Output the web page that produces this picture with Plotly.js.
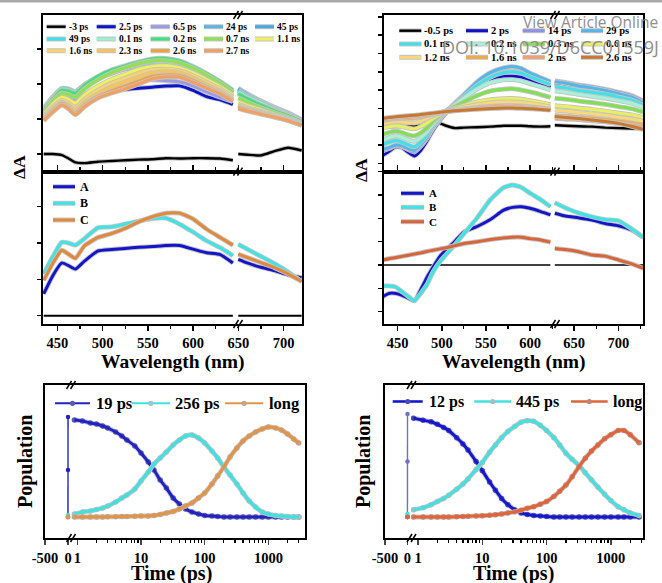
<!DOCTYPE html>
<html><head><meta charset="utf-8">
<script src="https://cdn.plot.ly/plotly-3.0.1.min.js"></script>
<style>html,body{margin:0;padding:0;background:#fff}</style>
</head><body>
<div id="chart" style="width:662px;height:583px"></div>
<script>
// ================= DATA =================
// --- left column: transient spectra (top) ---
const wlL = [435,445,455,462,470,480,495,510,525,540,555,570,585,600,615,630,644,null,650,660,675,690,705,720];
const tlNames  = ['-3 ps','2.5 ps','6.5 ps','24 ps','45 ps','49 ps','0.1 ns','0.2 ns','0.7 ns','1.1 ns','1.6 ns','2.3 ns','2.6 ns','2.7 ns'];
const tlColors = ['#000000','#0a14c8','#9a9ae2','#5ab4e6','#48a8e0','#3edfe8','#9cf0cc','#3ee07c','#90e052','#f0f05a','#f8d46c','#f6c45a','#f0a040','#f0a060'];
const tl_m3ps  = [0.0,0.0,-0.03,-0.12,-0.24,-0.26,-0.22,-0.2,-0.18,-0.16,-0.15,-0.12,-0.13,-0.12,-0.12,-0.13,-0.18,null,0.0,-0.02,-0.04,0.08,0.18,0.1];
const tl_2p5ps = [1.2,1.42,1.6,1.58,1.5,1.62,1.76,1.8,1.84,1.88,1.91,1.94,1.95,1.82,1.64,1.55,1.42,null,1.75,1.6,1.42,1.26,1.1,0.92];
const tl_6p5ps = [1.22,1.45,1.65,1.62,1.55,1.7,1.88,2.0,2.05,2.1,2.12,2.1,2.06,1.95,1.78,1.62,1.5,null,1.8,1.64,1.46,1.3,1.14,0.95];
const tl_24ps  = [1.3,1.62,1.86,1.84,1.76,1.95,2.15,2.3,2.42,2.5,2.56,2.55,2.48,2.33,2.14,1.95,1.74,null,1.88,1.72,1.52,1.34,1.18,0.98];
const tl_45ps  = [1.3,1.63,1.87,1.85,1.78,1.98,2.18,2.33,2.45,2.54,2.6,2.59,2.52,2.37,2.18,1.98,1.76,null,1.86,1.7,1.5,1.32,1.16,0.97];
const tl_49ps  = [1.28,1.62,1.88,1.86,1.78,1.98,2.2,2.36,2.48,2.57,2.63,2.62,2.55,2.4,2.2,2.0,1.78,null,1.82,1.66,1.48,1.3,1.14,0.95];
const tl_0p1ns = [1.27,1.6,1.84,1.82,1.75,1.96,2.2,2.38,2.5,2.6,2.67,2.66,2.6,2.45,2.25,2.03,1.8,null,1.76,1.62,1.44,1.27,1.12,0.93];
const tl_0p2ns = [1.26,1.58,1.82,1.8,1.73,1.96,2.22,2.4,2.52,2.63,2.72,2.73,2.66,2.5,2.3,2.07,1.82,null,1.72,1.58,1.4,1.24,1.1,0.92];
const tl_0p7ns = [1.2,1.52,1.74,1.7,1.62,1.86,2.12,2.32,2.46,2.58,2.66,2.67,2.6,2.45,2.25,2.02,1.76,null,1.6,1.48,1.32,1.18,1.05,0.88];
const tl_1p1ns = [1.12,1.42,1.62,1.56,1.45,1.68,1.94,2.14,2.28,2.42,2.5,2.52,2.46,2.32,2.12,1.92,1.68,null,1.48,1.38,1.26,1.13,1.01,0.86];
const tl_1p6ns = [1.06,1.34,1.54,1.46,1.32,1.56,1.82,2.02,2.16,2.3,2.4,2.42,2.38,2.24,2.05,1.86,1.62,null,1.42,1.33,1.22,1.1,0.99,0.85];
const tl_2p3ns = [1.02,1.28,1.48,1.4,1.24,1.48,1.72,1.92,2.06,2.2,2.32,2.35,2.32,2.17,1.98,1.8,1.57,null,1.38,1.29,1.19,1.08,0.97,0.84];
const tl_2p6ns = [0.98,1.24,1.44,1.34,1.17,1.4,1.65,1.8,1.94,2.08,2.22,2.26,2.24,2.1,1.92,1.75,1.53,null,1.33,1.26,1.16,1.06,0.96,0.83];
const tl_2p7ns = [0.95,1.2,1.4,1.3,1.12,1.35,1.6,1.74,1.86,2.0,2.15,2.2,2.2,2.05,1.88,1.72,1.5,null,1.3,1.23,1.14,1.05,0.95,0.82];
const tlSeries = [tl_m3ps,tl_2p5ps,tl_6p5ps,tl_24ps,tl_45ps,tl_49ps,tl_0p1ns,tl_0p2ns,tl_0p7ns,tl_1p1ns,tl_1p6ns,tl_2p3ns,tl_2p6ns,tl_2p7ns];

// --- left column: species spectra A, B, C (middle) ---
const abcNames = ['A','B','C'];
const mlColors = ['#1414c8','#3ee4e4','#e0883c'];
const ml_A = [0.6,1.1,1.45,1.38,1.28,1.5,1.78,1.82,1.85,1.88,1.9,1.93,1.93,1.83,1.73,1.68,1.45,null,1.55,1.45,1.33,1.24,1.12,1.04];
const ml_B = [1.15,1.62,2.02,2.0,1.94,2.12,2.42,2.44,2.52,2.6,2.67,2.68,2.52,2.3,2.06,1.87,1.65,null,1.96,1.83,1.63,1.43,1.2,0.94];
const ml_C = [0.97,1.44,1.8,1.7,1.58,1.92,2.15,2.26,2.4,2.58,2.72,2.82,2.82,2.66,2.38,2.15,1.94,null,1.69,1.6,1.46,1.32,1.15,0.94];

// --- right column: transient spectra (top) ---
const wlR = [432,440,448,455,462,469,476,483,490,498,505,515,525,540,555,570,580,590,600,612,623,null,628,640,655,670,685,700,715,728];
const trNames  = ['-0.5 ps','2 ps','14 ps','29 ps','0.1 ns','0.2 ns','0.3 ns','0.6 ns','1.2 ns','1.6 ns','2 ns','2.6 ns'];
const trColors = ['#000000','#1010c4','#9090e0','#55b5e8','#40e0e8','#a8f0d8','#80e050','#e8f060','#f8d878','#f0a848','#f0a070','#c87830'];
const tr_m0p5ps = [-0.05,-0.02,0.0,0.0,0.0,0.02,0.05,0.12,0.2,0.18,0.05,-0.08,-0.05,-0.03,0.0,0.05,0.05,0.05,0.02,0.0,0.02,null,0.08,0.05,0.02,0.0,-0.05,-0.08,-0.1,-0.12];
const tr_2ps    = [-1.6,-1.35,-1.1,-1.15,-1.4,-1.6,-1.3,-0.8,-0.2,0.35,0.75,1.2,1.6,2.2,2.6,2.75,2.75,2.7,2.55,2.35,2.15,null,2.35,2.3,2.2,2.1,1.98,1.85,1.65,1.35];
const tr_14ps   = [-1.35,-1.2,-1.05,-1.1,-1.25,-1.38,-1.08,-0.65,-0.1,0.42,0.8,1.27,1.72,2.42,2.92,3.18,3.24,3.14,2.9,2.65,2.42,null,2.5,2.42,2.28,2.18,2.05,1.88,1.7,1.4];
const tr_29ps   = [-1.25,-1.15,-1.0,-1.05,-1.2,-1.3,-1.0,-0.6,-0.05,0.45,0.82,1.3,1.75,2.45,2.95,3.22,3.28,3.18,2.92,2.68,2.46,null,2.46,2.38,2.22,2.12,1.98,1.8,1.62,1.3];
const tr_0p1ns  = [-1.0,-0.85,-0.75,-0.85,-1.0,-1.1,-0.85,-0.45,0.05,0.5,0.85,1.25,1.65,2.25,2.7,2.95,3.0,2.92,2.72,2.5,2.3,null,2.2,2.12,1.98,1.88,1.78,1.62,1.45,1.18];
const tr_0p2ns  = [-0.75,-0.6,-0.5,-0.58,-0.72,-0.8,-0.6,-0.28,0.15,0.55,0.85,1.2,1.55,2.05,2.4,2.55,2.57,2.5,2.35,2.18,2.0,null,1.95,1.88,1.76,1.66,1.56,1.42,1.28,1.05];
const tr_0p3ns  = [-0.45,-0.32,-0.25,-0.32,-0.45,-0.5,-0.35,-0.08,0.28,0.6,0.85,1.1,1.35,1.7,1.95,2.05,2.07,2.0,1.9,1.75,1.6,null,1.55,1.5,1.4,1.32,1.22,1.1,0.98,0.8];
const tr_0p6ns  = [-0.1,0.0,0.05,0.0,-0.08,-0.12,0.0,0.2,0.45,0.68,0.85,1.0,1.15,1.35,1.48,1.53,1.54,1.5,1.42,1.32,1.2,null,1.15,1.1,1.02,0.95,0.85,0.75,0.65,0.5];
const tr_1p2ns  = [0.15,0.22,0.28,0.26,0.22,0.2,0.3,0.45,0.6,0.75,0.85,0.97,1.07,1.2,1.3,1.35,1.35,1.32,1.26,1.18,1.08,null,0.9,0.85,0.78,0.7,0.62,0.52,0.42,0.3];
const tr_1p6ns  = [0.32,0.38,0.42,0.44,0.45,0.47,0.52,0.6,0.67,0.75,0.82,0.9,0.97,1.05,1.12,1.15,1.15,1.13,1.1,1.03,0.96,null,0.62,0.58,0.52,0.46,0.38,0.3,0.2,0.1];
const tr_2ns    = [0.38,0.43,0.47,0.5,0.52,0.55,0.59,0.64,0.7,0.76,0.82,0.88,0.94,1.01,1.07,1.1,1.1,1.08,1.05,0.99,0.93,null,0.45,0.42,0.38,0.32,0.26,0.18,0.08,-0.02];
const tr_2p6ns  = [0.45,0.5,0.54,0.57,0.6,0.62,0.66,0.7,0.74,0.79,0.83,0.87,0.9,0.95,0.99,1.02,1.02,1.0,0.98,0.94,0.9,null,0.55,0.5,0.44,0.36,0.28,0.18,0.02,-0.15];
const trSeries = [tr_m0p5ps,tr_2ps,tr_14ps,tr_29ps,tr_0p1ns,tr_0p2ns,tr_0p3ns,tr_0p6ns,tr_1p2ns,tr_1p6ns,tr_2ns,tr_2p6ns];

// --- right column: species spectra A, B, C (middle) ---
const mrColors = ['#1414c8','#3ee4e4','#d8643a'];
const mr_A = [-1.38,-1.22,-1.22,-1.3,-1.42,-1.54,-1.07,-0.55,-0.1,0.38,0.65,1.02,1.42,1.65,1.95,2.35,2.47,2.5,2.43,2.29,2.15,null,2.22,2.1,2.02,1.93,1.78,1.68,1.5,1.19];
const mr_B = [-0.9,-0.9,-0.95,-1.15,-1.35,-1.53,-1.22,-0.85,-0.3,0.15,0.45,0.88,1.34,2.02,2.8,3.32,3.43,3.33,3.08,2.8,2.5,null,2.67,2.45,2.23,2.07,1.95,1.9,1.55,1.19];
const mr_C = [0.2,0.27,0.32,0.37,0.42,0.47,0.52,0.58,0.63,0.69,0.74,0.83,0.92,1.0,1.09,1.16,1.19,1.19,1.13,1.07,0.98,null,0.71,0.66,0.57,0.43,0.38,0.22,0.05,-0.14];

// --- bottom: population kinetics ---
const tZero = [-1, 0, 0.3];
const blNames = ['19 ps','256 ps','long'];
const blColors = ['#2222c4','#40e0e0','#e0944a'];
const blMarker = ['#5a5ab4','#a2c4c4','#c4a48a'];
const tL = [0.9,1.2,1.6,2,2.5,3,4,5,6,8,10,13,16,20,25,32,40,50,63,80,100,130,160,200,250,320,400,500,630,800,1000,1300,1600,2000,2500,3000];
const bl_A0 = [0, 0.47, 1.0];
const bl_B0 = [0, 0, 0.02];
const bl_C0 = [0, 0, 0];
const bl_A = [0.97,0.96,0.94,0.93,0.91,0.89,0.85,0.81,0.77,0.71,0.64,0.55,0.47,0.37,0.29,0.19,0.13,0.08,0.05,0.03,0.015,0.01,0.005,0,0,0,0,0,0,0,0,0,0,0,0,0];
const bl_B = [0.03,0.05,0.06,0.075,0.09,0.11,0.15,0.19,0.22,0.28,0.36,0.45,0.53,0.59,0.65,0.72,0.77,0.81,0.82,0.79,0.74,0.66,0.59,0.5,0.42,0.33,0.24,0.16,0.1,0.05,0.03,0.015,0.01,0.005,0,0];
const bl_C = [0,0,0,0,0,0.002,0.003,0.005,0.005,0.008,0.01,0.01,0.015,0.025,0.04,0.055,0.08,0.11,0.14,0.19,0.24,0.33,0.41,0.5,0.6,0.69,0.76,0.81,0.85,0.88,0.9,0.89,0.87,0.83,0.78,0.74];

const brNames = ['12 ps','445 ps','long'];
const brColors = ['#1616cc','#44e0e0','#e0643a'];
const brMarker = ['#4a4ac0','#a0c2c2','#c48470'];
const tR = [0.85,1.2,1.6,2,2.5,3,4,5,6,8,10,13,16,20,25,32,40,50,63,80,100,130,160,200,250,320,400,500,630,800,1000,1300,1600,2000,2750];
const br_A0 = [0, 0.54, 1.0];
const br_B0 = [0, 0, 0.03];
const br_C0 = [0, 0, 0];
const br_A = [0.96,0.94,0.925,0.9,0.87,0.84,0.77,0.71,0.65,0.54,0.45,0.34,0.26,0.18,0.12,0.07,0.04,0.025,0.015,0.01,0.005,0,0,0,0,0,0,0,0,0,0,0,0,0,0];
const br_B = [0.07,0.09,0.12,0.15,0.18,0.21,0.27,0.32,0.37,0.46,0.53,0.63,0.7,0.77,0.83,0.88,0.92,0.935,0.93,0.89,0.84,0.77,0.7,0.62,0.56,0.5,0.43,0.36,0.29,0.22,0.16,0.1,0.07,0.04,0.015];
const br_C = [0,0,0,0,0,0,0.003,0.005,0.007,0.01,0.012,0.017,0.022,0.03,0.04,0.05,0.065,0.085,0.1,0.125,0.15,0.2,0.25,0.31,0.39,0.49,0.57,0.64,0.7,0.76,0.8,0.84,0.84,0.8,0.72];

const logTicks = [1,10,100,1000];
const logMinor = [2,3,4,5,6,7,8,9,20,30,40,50,60,70,80,90,200,300,400,500,600,700,800,900,2000,3000];

// ================= HELPERS =================
const W = 662, H = 583;
const px = x => x / W;
const py = y => 1 - y / H;
const SER = '"Liberation Serif", "Times New Roman", Times, serif';
const EDGE = '#c4c4c4';
const traces = [];
function curve(xa, ya, xs, ys, color, w, name) {
  traces.push({type:'scatter', mode:'lines', x:xs, y:ys, xaxis:xa, yaxis:ya,
    line:{color:EDGE, width:w + 1.8, shape:'spline', smoothing:0.5}, hoverinfo:'skip', showlegend:false});
  traces.push({type:'scatter', mode:'lines', x:xs, y:ys, xaxis:xa, yaxis:ya, name:name,
    line:{color:color, width:w, shape:'spline', smoothing:0.5}, showlegend:false});
}
function kin(xa, ya, xs, ys, color, mcol, name) {
  traces.push({type:'scatter', mode:'lines', x:xs, y:ys, xaxis:xa, yaxis:ya,
    line:{color:EDGE, width:4.8, shape:'spline', smoothing:0.5}, hoverinfo:'skip', showlegend:false});
  traces.push({type:'scatter', mode:'markers', x:xs, y:ys, xaxis:xa, yaxis:ya,
    marker:{size:5.5, color:mcol}, hoverinfo:'skip', showlegend:false});
  traces.push({type:'scatter', mode:'lines', x:xs, y:ys, xaxis:xa, yaxis:ya, name:name,
    line:{color:color, width:3, shape:'spline', smoothing:0.5}, showlegend:false});
}
function zeroSeg(xa, ya, xs, ys, color, name) {
  traces.push({type:'scatter', mode:'lines+markers', x:xs, y:ys, xaxis:xa, yaxis:ya, name:name,
    line:{color:color, width:1.4}, marker:{size:4.5, color:color}, showlegend:false});
}

// top-left spectra
tlSeries.forEach((ys, i) => curve('x', 'y', wlL, ys, tlColors[i], i === 0 ? 2.4 : 3, tlNames[i]));
// middle-left: zero line + A, B, C
traces.push({type:'scatter', mode:'lines', x:wlL, y:wlL.map(v => v === null ? null : 0), xaxis:'x2', yaxis:'y2',
  line:{color:'#000', width:2}, showlegend:false, hoverinfo:'skip'});
[ml_A, ml_B, ml_C].forEach((ys, i) => curve('x2', 'y2', wlL, ys, mlColors[i], 3, abcNames[i]));
// top-right spectra
trSeries.forEach((ys, i) => curve('x3', 'y3', wlR, ys, trColors[i], i === 0 ? 2.4 : 3, trNames[i]));
// middle-right
traces.push({type:'scatter', mode:'lines', x:wlR, y:wlR.map(v => v === null ? null : 0), xaxis:'x4', yaxis:'y4',
  line:{color:'#000', width:1.6}, showlegend:false, hoverinfo:'skip'});
[mr_A, mr_B, mr_C].forEach((ys, i) => curve('x4', 'y4', wlR, ys, mrColors[i], 3, abcNames[i]));
// bottom-left kinetics
[bl_A0, bl_B0, bl_C0].forEach((ys, i) => zeroSeg('x5', 'y5', tZero, ys, blColors[i], blNames[i]));
[bl_A, bl_B, bl_C].forEach((ys, i) => kin('x6', 'y6', tL, ys, blColors[i], blMarker[i], blNames[i]));
// bottom-right kinetics
[br_A0, br_B0, br_C0].forEach((ys, i) => zeroSeg('x7', 'y7', tZero, ys, i === 0 ? '#7070c4' : brColors[i], brNames[i]));
[br_A, br_B, br_C].forEach((ys, i) => kin('x8', 'y8', tR, ys, brColors[i], brMarker[i], brNames[i]));

// ================= LAYOUT =================
const base = {showgrid:false, zeroline:false, showline:true, linecolor:'#000', linewidth:2.2, automargin:false, fixedrange:true};
const tickFont = {family:SER, size:14.5, color:'#000', weight:'bold'};
const yTicks = {ticks:'outside', ticklen:4, tickwidth:1.5, tickcolor:'#000', dtick:1, tick0:0, showticklabels:false, mirror:true};
const wlX = {mirror:'ticks', ticks:'outside', ticklen:4.5, tickwidth:1.5, tickcolor:'#000', tickmode:'linear', tick0:450, dtick:50,
             tickfont:tickFont, minor:{ticks:'outside', ticklen:2.5, tickwidth:1.2, tickcolor:'#000', tick0:425, dtick:25}};
const xL = [px(43), px(302)], xR = [px(384), px(643)];
const layout = {
  width:W, height:H, margin:{l:0, r:0, t:0, b:0}, paper_bgcolor:'#fff', plot_bgcolor:'rgba(0,0,0,0)', showlegend:false,
  font:{family:SER, color:'#000'},
  xaxis:  {...base, domain:xL, range:[434.2,720.4], anchor:'y', mirror:true, ticks:'', showticklabels:false},
  yaxis:  {...base, ...yTicks, domain:[py(171.7), py(15)], range:[-0.506,3.971], anchor:'x'},
  xaxis2: {...base, ...wlX, domain:xL, range:[434.2,720.4], anchor:'y2'},
  yaxis2: {...base, ...yTicks, domain:[py(324), py(171.7)], range:[-0.23,3.96], anchor:'x2'},
  xaxis3: {...base, domain:xR, range:[434.5,727.9], anchor:'y3', mirror:true, ticks:'', showticklabels:false},
  yaxis3: {...base, ...yTicks, domain:[py(171.7), py(15)], range:[-2.46,6.1], anchor:'x3'},
  xaxis4: {...base, ...wlX, domain:xR, range:[434.5,727.9], anchor:'y4'},
  yaxis4: {...base, ...yTicks, domain:[py(324), py(171.7)], range:[-2.53,4.0], anchor:'x4'},
  xaxis5: {...base, domain:[px(45), px(70.5)], range:[-500,54], anchor:'y5', mirror:true, ticks:'outside', ticklen:5, tickwidth:1.5,
           tickvals:[-500,0], ticktext:['-500','0'], tickfont:tickFont},
  yaxis5: {...base, domain:[py(538), py(385)], range:[-0.21,1.32], anchor:'x5', ticks:'', showticklabels:false},
  xaxis6: {...base, type:'log', domain:[px(70.5), px(305)], range:[-0.107,3.575], anchor:'y6', mirror:true, ticks:'outside', ticklen:5, tickwidth:1.5,
           tickvals:logTicks, ticktext:logTicks.map(String), tickfont:tickFont,
           minor:{ticks:'outside', ticklen:3, tickwidth:1.2, tickcolor:'#000', tickvals:logMinor}},
  yaxis6: {...base, domain:[py(538), py(385)], range:[-0.21,1.32], anchor:'x6', side:'right', ticks:'', showticklabels:false},
  xaxis7: {...base, domain:[px(385), px(411)], range:[-500,78], anchor:'y7', mirror:true, ticks:'outside', ticklen:5, tickwidth:1.5,
           tickvals:[-500,0], ticktext:['-500','0'], tickfont:tickFont},
  yaxis7: {...base, domain:[py(538), py(385)], range:[-0.204,1.282], anchor:'x7', ticks:'', showticklabels:false},
  xaxis8: {...base, type:'log', domain:[px(411), px(643)], range:[-0.109,3.5], anchor:'y8', mirror:true, ticks:'outside', ticklen:5, tickwidth:1.5,
           tickvals:logTicks, ticktext:logTicks.map(String), tickfont:tickFont,
           minor:{ticks:'outside', ticklen:3, tickwidth:1.2, tickcolor:'#000', tickvals:logMinor}},
  yaxis8: {...base, domain:[py(538), py(385)], range:[-0.204,1.282], anchor:'x8', side:'right', ticks:'', showticklabels:false},
  shapes:[], annotations:[]
};
const S = layout.shapes, A = layout.annotations;
function txt(x, y, text, size, opts) {
  A.push(Object.assign({xref:'paper', yref:'paper', x:px(x), y:py(y), text:text, showarrow:false,
    font:{family:SER, size:size, color:'#000', weight:'bold'}, xanchor:'center', yanchor:'middle'}, opts || {}));
}
function pline(x0, y0, x1, y1, color, w) {
  S.push({type:'line', xref:'paper', yref:'paper', x0:px(x0), y0:py(y0), x1:px(x1), y1:py(y1), line:{color:color, width:w}});
}
function dot(x, y, color, r) {
  S.push({type:'circle', xref:'paper', yref:'paper', xsizemode:'pixel', ysizemode:'pixel', xanchor:px(x), yanchor:py(y),
    x0:-r, x1:r, y0:-r, y1:r, fillcolor:color, line:{width:0}});
}
function legLine(x0, x1, y, color, w, edge) {
  if (edge !== false) pline(x0, y, x1, y, EDGE, w + 2);
  pline(x0, y, x1, y, color, w);
}
function brk(cx, cy) {
  [-2, 2].forEach(d => pline(cx + d - 2.5, cy + 4, cx + d + 2.5, cy - 4, '#000', 1.5));
}

// gray strip at top of page
S.push({type:'rect', xref:'paper', yref:'paper', x0:0, x1:1, y0:py(2.5), y1:1, fillcolor:'#a8a8a8', line:{width:0}});

// legends: top-left (5 columns)
const tlCols = [46.7, 96.7, 150.7, 204, 255], tlRows = [26.7, 39, 50.7];
tlNames.forEach((n, i) => {
  const c = i % 5, r = Math.floor(i / 5), x0 = tlCols[c], y = tlRows[r];
  legLine(x0, x0 + 19, y, tlColors[i], i === 0 ? 2.4 : 3);
  txt(x0 + 20, y, n, 9.5, {xanchor:'left'});
});
// top-right (4 columns)
const trCols = [399.3, 466, 522.7, 581], trRows = [30.7, 44, 57.3];
trNames.forEach((n, i) => {
  const c = i % 4, r = Math.floor(i / 4), x0 = trCols[c], y = trRows[r];
  legLine(x0, x0 + 22, y, trColors[i], i === 0 ? 2.4 : 3);
  txt(x0 + 23, y, n, 10.5, {xanchor:'left'});
});
// middle legends
[186.7, 203.3, 220].forEach((y, i) => { legLine(53, 75, y, mlColors[i], 3); txt(78, y, abcNames[i], 12, {xanchor:'left'}); });
[193.3, 207.3, 221.7].forEach((y, i) => { legLine(401, 424, y, mrColors[i], 3); txt(427, y, abcNames[i], 11, {xanchor:'left'}); });
// kinetics legends
[[55, 90, 94], [131.7, 170, 173], [225, 263.3, 266.7]].forEach((p, i) => {
  legLine(p[0], p[1], 403.3, blColors[i], 2, false); dot((p[0] + p[1]) / 2, 403.3, blMarker[i], 2.6);
  txt(p[2], 403.3, blNames[i], 16.5, {xanchor:'left'});
});
[[392.7, 422.7, 426.7], [474.3, 511, 514.3], [571, 607.7, 610.7]].forEach((p, i) => {
  legLine(p[0], p[1], 401.5, brColors[i], 2.6, false); dot((p[0] + p[1]) / 2, 401.5, brMarker[i], 2.6);
  txt(p[2], 401.5, brNames[i], 16, {xanchor:'left'});
});

// axis break marks
[15, 171.7, 324].forEach(y => { brk(238, y); brk(555, y); });
[385, 538].forEach(y => { brk(71, y); brk(411.5, y); });

// axis titles
txt(19, 167, 'ΔA', 17.5, {textangle:-90});
txt(361, 170, 'ΔA', 17.5, {textangle:-90});
txt(173, 362, 'Wavelength (nm)', 19.5);
txt(514, 362, 'Wavelength (nm)', 19.5);
txt(25, 462, 'Population', 20, {textangle:-90});
txt(363, 462, 'Population', 20, {textangle:-90});
txt(171, 573, 'Time (ps)', 20);
txt(513, 573, 'Time (ps)', 20);

// publisher watermark
A.push({xref:'paper', yref:'paper', x:px(660), y:py(22), text:'View Article Online', showarrow:false, xanchor:'right', yanchor:'middle',
  font:{family:'Open Sans, Noto Sans, sans-serif', size:15.5, color:'#8e8e8e'}});
A.push({xref:'paper', yref:'paper', x:px(661), y:py(46.5), text:'DOI: 10.1039/D6CC01559J', showarrow:false, xanchor:'right', yanchor:'middle',
  font:{family:'Open Sans, Noto Sans, sans-serif', size:18, color:'#8e8e8e'}});

Plotly.newPlot('chart', traces, layout, {staticPlot:true, displayModeBar:false});
</script>
</body></html>
